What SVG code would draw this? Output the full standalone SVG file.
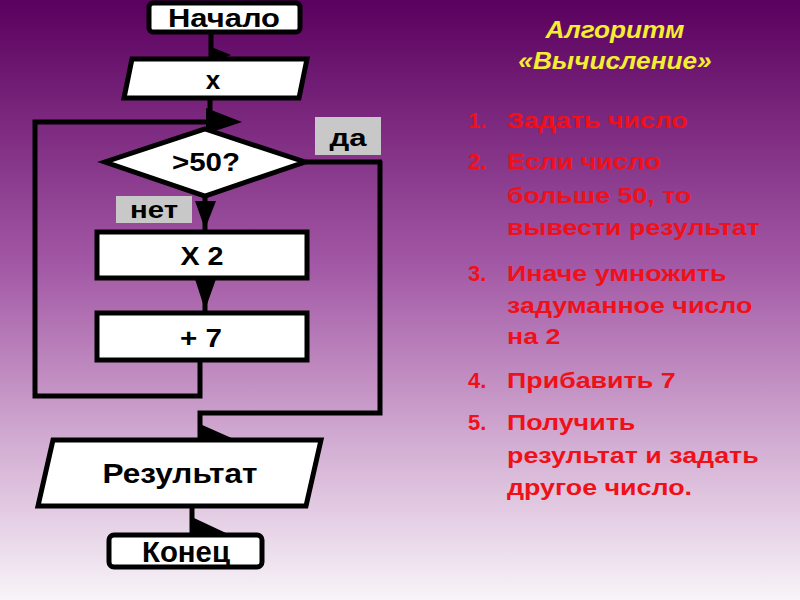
<svg xmlns="http://www.w3.org/2000/svg" width="800" height="600" viewBox="0 0 800 600">
<defs>
<linearGradient id="bg" x1="0" y1="0" x2="0" y2="1">
<stop offset="0" stop-color="#5a005e"/>
<stop offset="0.45" stop-color="#a45aa6"/>
<stop offset="0.75" stop-color="#d4b0d4"/>
<stop offset="1" stop-color="#f8f4f8"/>
</linearGradient>
<style>
.shape{fill:#fff;stroke:#000;stroke-width:5;stroke-linejoin:miter}
.lbl{font-family:"Liberation Sans",Arial,sans-serif;font-weight:bold;fill:#000;text-anchor:middle}
.line{fill:none;stroke:#000;stroke-width:5;stroke-linejoin:miter}
.head{fill:#000}
.tag{fill:#c8c8c8}
.title{font-family:"Liberation Sans",Arial,sans-serif;font-weight:bold;font-style:italic;font-size:23px;fill:#f4ee30;text-anchor:middle}
.item{font-family:"Liberation Sans",Arial,sans-serif;font-weight:bold;font-size:22px;fill:#f01018}
</style>
</defs>
<rect width="800" height="600" fill="url(#bg)"/>

<g id="connectors">
<path class="line" d="M211 32 V58"/>
<polygon class="head" points="209,46 231,55 209,64"/>
<path class="line" d="M210 98 V128"/>
<path class="line" d="M200 362 V396 H35 V122 H212"/>
<polygon class="head" points="206,108 242,122 206,134"/>
<path class="line" d="M380 161 V413 H200 V440"/>
<path class="line" d="M305 162 H382"/>
<polygon class="head" points="200,424 236,440 200,440"/>
<path class="line" d="M205 196 V232"/>
<polygon class="head" points="195,201 216,201 205,229"/>
<path class="line" d="M205 280 V312"/>
<polygon class="head" points="195,279 216,279 205,310"/>
<path class="line" d="M192 507 V535"/>
<polygon class="head" points="194,518 226,533 194,533"/>
</g>

<g id="tag-da">
<rect class="tag" x="315" y="117" width="66" height="38"/>
<text class="lbl" x="348" y="146" font-size="24" textLength="37" lengthAdjust="spacingAndGlyphs">да</text>
</g>
<g id="tag-net">
<rect class="tag" x="116" y="196" width="76" height="27"/>
<text class="lbl" x="154" y="218" font-size="24" textLength="48" lengthAdjust="spacingAndGlyphs">нет</text>
</g>

<g id="start">
<rect class="shape" x="149" y="3" width="151" height="29" rx="4"/>
<text class="lbl" x="224" y="27" font-size="26" textLength="112" lengthAdjust="spacingAndGlyphs">Начало</text>
</g>
<g id="input">
<polygon class="shape" points="132,59 307,59 299,98 124,98"/>
<text class="lbl" x="213" y="89" font-size="26">x</text>
</g>
<g id="decision">
<polygon class="shape" points="205,129 305,162 205,196 105,162"/>
<text class="lbl" x="206" y="171" font-size="26" textLength="68" lengthAdjust="spacingAndGlyphs">&gt;50?</text>
</g>
<g id="mul">
<rect class="shape" x="97" y="232" width="210" height="46"/>
<text class="lbl" x="202" y="265" font-size="26" textLength="43" lengthAdjust="spacingAndGlyphs">X 2</text>
</g>
<g id="add">
<rect class="shape" x="97" y="313" width="210" height="47"/>
<text class="lbl" x="201" y="347" font-size="26" textLength="42" lengthAdjust="spacingAndGlyphs">+ 7</text>
</g>
<g id="output">
<polygon class="shape" points="53,440 321,440 306,506 38,506"/>
<text class="lbl" x="180" y="483" font-size="28" textLength="155" lengthAdjust="spacingAndGlyphs">Результат</text>
</g>
<g id="end">
<rect class="shape" x="109" y="535" width="153" height="32" rx="5"/>
<text class="lbl" x="186" y="562" font-size="30" textLength="88" lengthAdjust="spacingAndGlyphs">Конец</text>
</g>

<g id="algorithm">
<g transform="translate(615 0) scale(1.14 1)">
<text class="title" x="0" y="38">Алгоритм</text>
<text class="title" x="0" y="69">«Вычисление»</text>
</g>
<text class="item" x="468" y="128">1.</text>
<text class="item" x="468" y="169">2.</text>
<text class="item" x="468" y="281">3.</text>
<text class="item" x="468" y="388">4.</text>
<text class="item" x="468" y="430">5.</text>
<g transform="translate(507 0) scale(1.22 1)">
<text class="item" x="0" y="128">Задать число</text>
<text class="item" x="0" y="169">Если число</text>
<text class="item" x="0" y="203">больше 50, то</text>
<text class="item" x="0" y="235">вывести результат</text>
<text class="item" x="0" y="281">Иначе умножить</text>
<text class="item" x="0" y="313">задуманное число</text>
<text class="item" x="0" y="344">на 2</text>
<text class="item" x="0" y="388">Прибавить 7</text>
<text class="item" x="0" y="430">Получить</text>
<text class="item" x="0" y="463">результат и задать</text>
<text class="item" x="0" y="495">другое число.</text>
</g>
</g>
</svg>
